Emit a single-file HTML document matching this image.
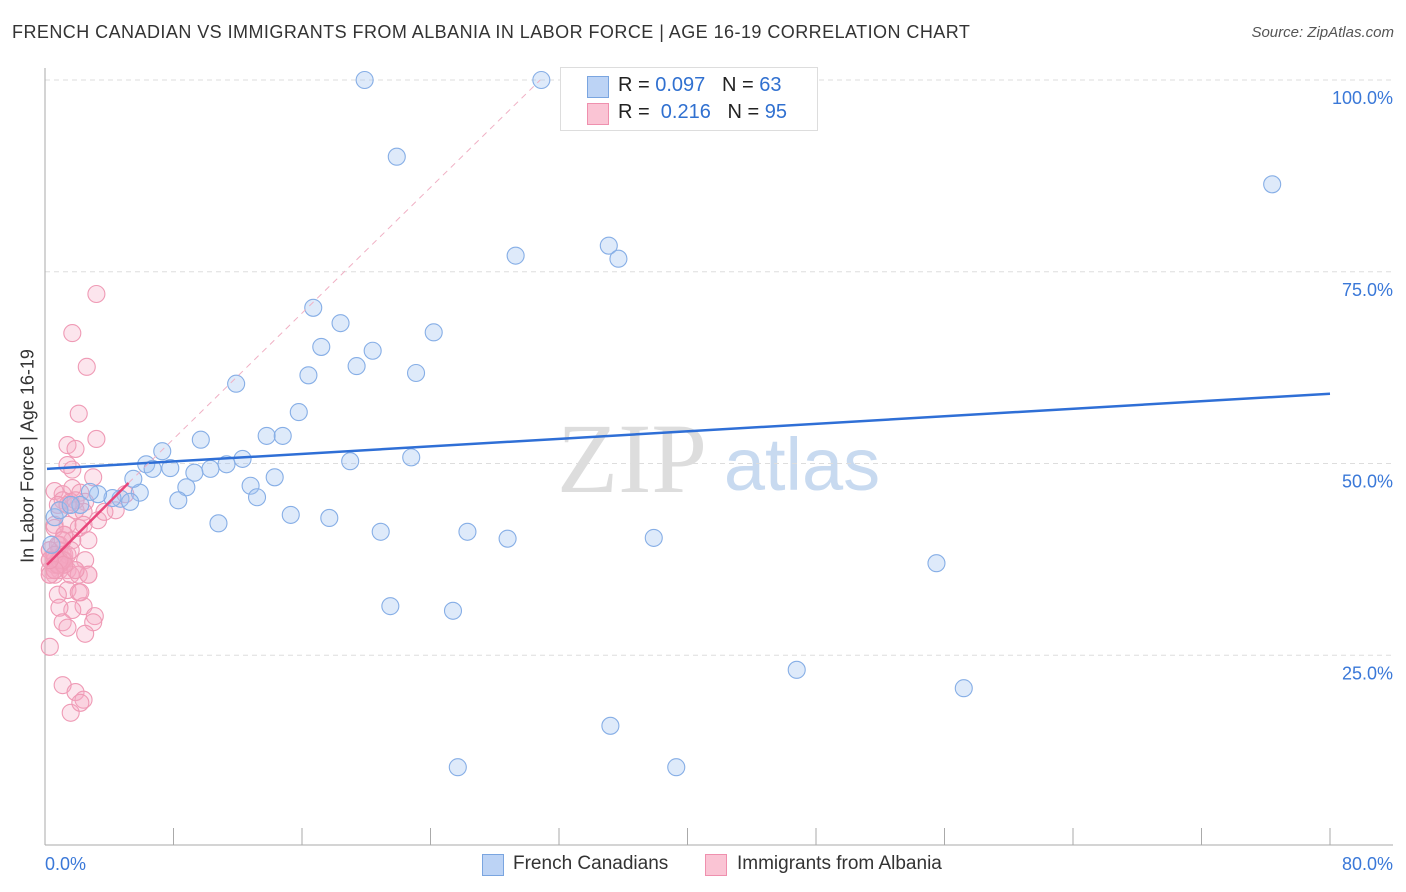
<!DOCTYPE html>
<html><head><meta charset="utf-8"><style>
body{margin:0;background:#fff;font-family:"Liberation Sans",sans-serif;}
#wrap{position:relative;width:1406px;height:892px;overflow:hidden;}
.t{position:absolute;white-space:nowrap;}
</style></head><body>
<div id="wrap">
<div class="t" style="left:12px;top:22px;font-size:18px;letter-spacing:0.45px;color:#333;">FRENCH CANADIAN VS IMMIGRANTS FROM ALBANIA IN LABOR FORCE | AGE 16-19 CORRELATION CHART</div>
<div class="t" style="right:12px;top:24px;font-size:15px;color:#555;font-style:italic;">Source: ZipAtlas.com</div>
<svg id="plot" width="1406" height="892" style="position:absolute;left:0;top:0">
<text x="632" y="492" font-size="100" fill="#ddd" font-family="Liberation Serif" text-anchor="middle">ZIP</text>
<text x="802" y="490" font-size="74" fill="#c8daf0" text-anchor="middle">atlas</text>
<g id="grid"></g><g id="marks"></g>
</svg>
<div class="t" style="left:28px;top:456px;font-size:18px;color:#333;transform:translate(-50%,-50%) rotate(-90deg);">In Labor Force | Age 16-19</div>
<div style="position:absolute;left:560px;top:67px;width:256px;height:62px;border:1px solid #ddd;background:#fff;">
 <div style="position:absolute;left:26px;top:8px;width:20px;height:20px;background:#bcd3f5;border:1px solid #7aa5e0"></div>
 <div class="t" style="left:57px;top:6px;font-size:20px;color:#222">R = <span style="color:#3070d0">0.097</span>&nbsp;&nbsp;&nbsp;N = <span style="color:#3070d0">63</span></div>
 <div style="position:absolute;left:26px;top:35px;width:20px;height:20px;background:#fac4d4;border:1px solid #ef90ae"></div>
 <div class="t" style="left:57px;top:33px;font-size:20px;color:#222">R =&nbsp; <span style="color:#3070d0">0.216</span>&nbsp;&nbsp;&nbsp;N = <span style="color:#3070d0">95</span></div>
</div>
<div style="position:absolute;left:482px;top:854px;width:20px;height:20px;background:#bcd3f5;border:1px solid #7aa5e0"></div>
<div class="t" style="left:513px;top:853px;font-size:19px;color:#333">French Canadians</div>
<div style="position:absolute;left:705px;top:854px;width:20px;height:20px;background:#fac4d4;border:1px solid #ef90ae"></div>
<div class="t" style="left:737px;top:853px;font-size:19px;color:#333">Immigrants from Albania</div>
</div>
<script>
const xTicks=[0,10,20,30,40,50,60,70,80];
const yTicks=[25,50,75,100];
const yTickLabels=["25.0%","50.0%","75.0%","100.0%"];
const xEndLabels=["0.0%","80.0%"];
const blueX=[19.9,30.9,21.9,76.4,29.3,35.1,35.7,16.7,18.4,24.2,17.2,20.4,19.4,16.4,23.1,11.9,15.8,13.8,14.8,9.7,7.3,6.3,7.8,6.7,12.3,11.3,10.3,9.3,19.0,22.8,14.3,12.8,8.8,13.2,8.3,5.9,5.5,4.7,5.3,4.2,3.3,2.8,2.2,15.3,17.7,10.8,20.9,26.3,28.8,37.9,55.5,21.5,25.4,46.8,57.2,35.2,25.7,39.3,0.6,0.4,0.9,1.6,38.6];
const blueY=[100,100,90.0,86.4,77.1,78.4,76.7,70.3,68.3,67.1,65.2,64.7,62.7,61.5,61.8,60.4,56.7,53.6,53.6,53.1,51.6,49.9,49.4,49.3,50.6,49.9,49.3,48.8,50.3,50.8,48.2,47.1,46.9,45.6,45.2,46.2,48.0,45.4,45.0,45.5,46.0,46.3,44.6,43.3,42.9,42.2,41.1,41.1,40.2,40.3,37.0,31.4,30.8,23.1,20.7,15.8,10.4,10.4,43.0,39.4,43.9,44.6,100];
const pinkX=[3.2,1.7,2.6,2.1,3.2,1.4,1.9,1.4,1.7,3.0,0.6,1.1,1.7,2.2,1.1,1.6,2.5,0.9,1.9,2.4,5.0,4.4,3.3,0.6,1.4,2.1,1.2,1.7,2.7,0.9,0.3,0.6,0.8,1.1,0.3,0.6,0.9,1.2,0.3,0.6,0.9,2.5,1.9,2.7,1.4,2.1,0.8,2.4,1.7,0.9,3.1,3.0,1.1,1.4,2.5,0.3,1.1,1.9,2.4,1.6,2.2,3.7,0.6,1.2,0.8,0.3,1.1,0.6,0.9,1.4,0.3,0.6,1.6,2.1,2.7,1.2,0.9,0.6,1.9,2.2,0.3,0.8,1.4,1.1,0.6,0.9,1.2,1.6,0.6,0.3,1.1,0.8,2.4,1.4,1.9];
const pinkY=[72.1,67.0,62.6,56.5,53.2,52.4,51.9,49.8,49.2,48.2,46.4,46.0,46.8,46.2,45.2,45.0,45.0,43.9,43.9,43.7,46.0,43.9,42.6,42.0,42.0,41.6,40.7,40.0,40.0,39.4,38.7,38.1,37.4,36.8,36.1,35.5,38.7,38.1,37.4,36.8,36.1,37.4,36.1,35.5,33.5,33.2,32.9,31.4,30.9,31.2,30.1,29.3,29.3,28.6,27.8,26.1,21.1,20.2,19.2,17.5,18.8,43.7,41.6,40.7,39.4,38.7,38.1,37.4,36.8,36.1,35.5,36.8,35.5,35.5,35.5,37.4,36.8,36.1,36.1,33.2,35.5,36.8,38.1,37.4,38.1,37.4,36.8,38.7,36.1,37.4,40.0,44.6,42.0,44.6,45.2];
const blueTrend=[49.3,59.1];
const pinkTrend=[36.8,2.05];
const X=v=>45+v/80*1285, Y=v=>847-v*7.67;
const NS="http://www.w3.org/2000/svg";
const grid=document.getElementById('grid'), marks=document.getElementById('marks');
function mk(tag,attrs,parent){const e=document.createElementNS(NS,tag);for(const k in attrs)e.setAttribute(k,attrs[k]);parent.appendChild(e);return e;}
yTicks.forEach((t,i)=>{
 const l=mk('line',{x1:45,x2:1393,y1:Y(t),y2:Y(t),stroke:'#ddd','stroke-dasharray':'5,4'},grid);
 
 
 const tx=mk('text',{x:1393,y:Y(t)+24,'font-size':18,fill:'#3a78d8','text-anchor':'end'},grid);
 tx.textContent=yTickLabels[i];
 
 
});
const ax=mk('line',{x1:45,x2:45,y1:68,y2:845,stroke:'#aaa'},grid);


const bx=mk('line',{x1:45,x2:1393,y1:845,y2:845,stroke:'#aaa'},grid);


for(let v=0;v<=80;v+=8){const t=mk('line',{x1:X(v),x2:X(v),y1:828,y2:845,stroke:'#aaa'},grid);
 
 }
xEndLabels.forEach((s,i)=>{const t=mk('text',{x:i?1393:45,y:870,'font-size':18,fill:'#3a78d8','text-anchor':i?'end':'start'},grid);t.textContent=s;
 
 });
pinkX.forEach((x,i)=>{const c=mk('circle',{cx:X(x),cy:Y(pinkY[i]),r:8.5,fill:'rgba(246,168,194,0.3)',stroke:'#ef9ab5','stroke-width':1.1},marks);
 
 });
blueX.forEach((x,i)=>{const c=mk('circle',{cx:X(x),cy:Y(blueY[i]),r:8.5,fill:'rgba(160,194,240,0.35)',stroke:'#86aee6','stroke-width':1.1},marks);
 
 });
const bl=mk('line',{x1:X(0)+2,y1:Y(blueTrend[0]),x2:X(80),y2:Y(blueTrend[1]),stroke:'#2f6fd6','stroke-width':2.5},marks);


const pxEnd=(100-pinkTrend[0])/pinkTrend[1];
const pd=mk('line',{x1:X(5.2),y1:Y(pinkTrend[0]+pinkTrend[1]*5.2),x2:X(pxEnd),y2:Y(100),stroke:'#f0b0c4','stroke-width':1,'stroke-dasharray':'6,5'},marks);


const pl=mk('line',{x1:X(0)+2,y1:Y(pinkTrend[0]),x2:X(5.2),y2:Y(pinkTrend[0]+pinkTrend[1]*5.2),stroke:'#e8457a','stroke-width':2.5},marks);


</script>
</body></html>
